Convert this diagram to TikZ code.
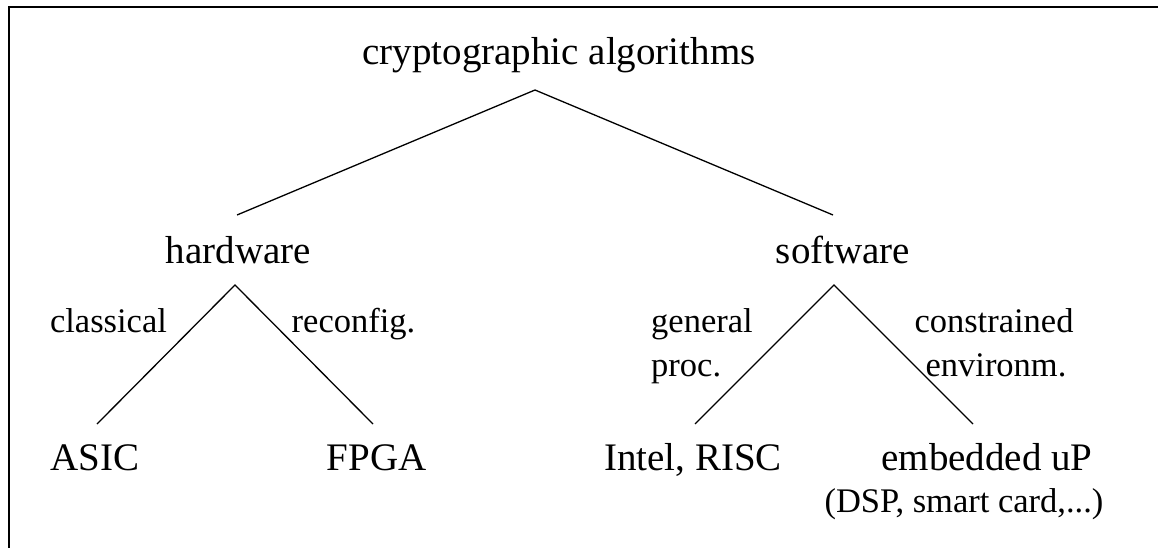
\documentclass[tikz,border=0pt]{standalone}
\usepackage{fontspec}
\setmainfont{Liberation Serif}
\begin{document}
\begin{tikzpicture}[x=1pt,y=-1pt,
  lbl/.style={anchor=base,inner sep=0pt,font=\fontsize{39}{44}\selectfont},
  small/.style={anchor=base,inner sep=0pt,font=\fontsize{34.5}{44}\selectfont},
  edge/.style={draw=black,line width=1.3pt},
  frameline/.style={draw=black,line width=2.6pt}]
\useasboundingbox (0,0) rectangle (1158,548);
% open frame: top and left sides only
\draw[frameline] (9,548) -- (9,7) -- (1158,7);

% tree labels
\node[lbl] (root) at (559,65) {cryptographic algorithms};
\node[lbl] (hw) at (238.5,263) {hardware};
\node[lbl] (sw) at (843,263) {software};
\node[lbl] (asic) at (95,470) {ASIC};
\node[lbl] (fpga) at (376.5,470) {FPGA};
\node[lbl] (intel) at (693,470) {Intel, RISC};
\node[lbl] (emb) at (987,470) {embedded uP};
\node[small] (embnote) at (964,512) {(DSP, smart card,...)};

% edge labels
\node[small] (classical) at (108.5,332) {classical};
\node[small] (reconfig) at (353.5,332) {reconfig.};
\node[small,anchor=base west] (genA) at (651,332) {general};
\node[small,anchor=base west] (genB) at (651,376) {proc.};
\node[small] (conA) at (994,332) {constrained};
\node[small] (conB) at (996,376) {environm.};

% connector end points
\coordinate (rootfoot) at (535,90);
\coordinate (hwhead) at (237,215);
\coordinate (swhead) at (833,215);
\coordinate (hwfoot) at (235,285);
\coordinate (swfoot) at (834,285);
\coordinate (asichead) at (97,424);
\coordinate (fpgahead) at (373,424);
\coordinate (intelhead) at (695,424);
\coordinate (embhead) at (973,424);

\draw[edge] (hwhead) -- (rootfoot) -- (swhead);
\draw[edge] (asichead) -- (hwfoot) -- (fpgahead);
\draw[edge] (intelhead) -- (swfoot) -- (embhead);
\end{tikzpicture}
\end{document}
